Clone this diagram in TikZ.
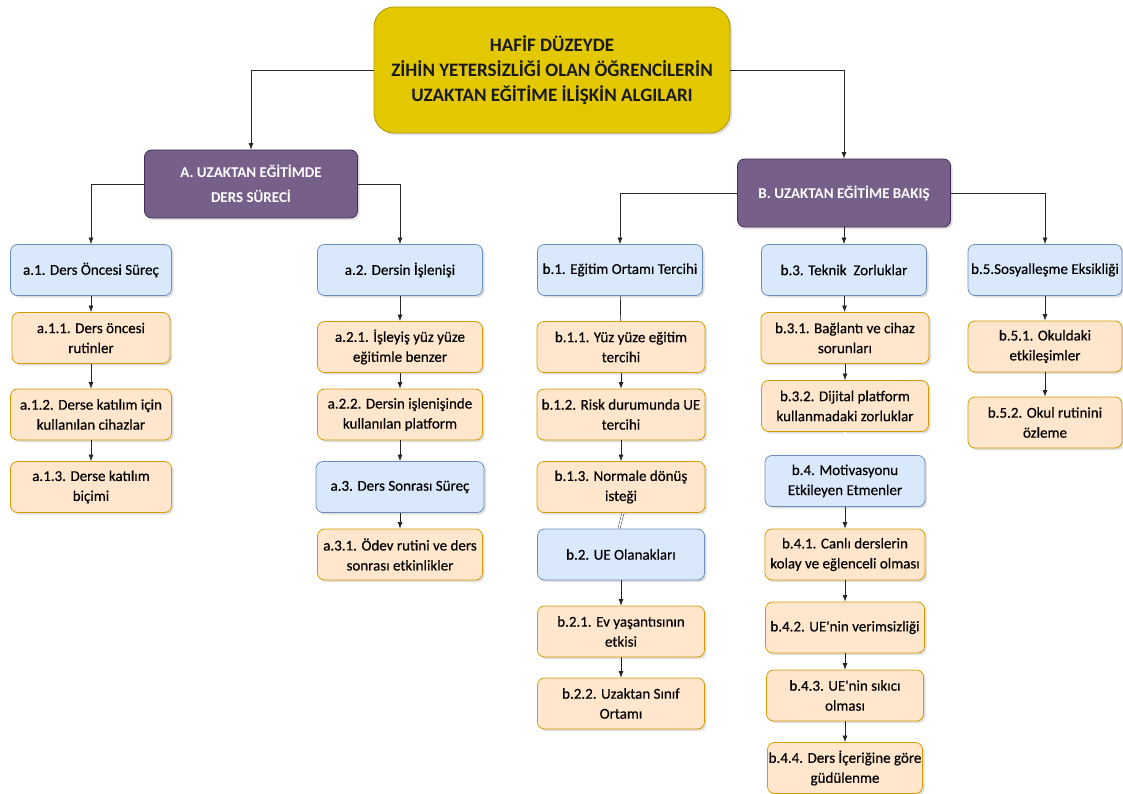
\documentclass[tikz,border=0pt]{standalone}
\usepackage{fontspec}
\setmainfont{Carlito}
\newfontfamily\boxfont{Carlito}[FakeBold=0.4]
\usetikzlibrary{arrows.meta, shadows}

\definecolor{rootfill}{HTML}{E3C800}
\definecolor{rootline}{HTML}{B09500}
\definecolor{headfill}{HTML}{76608A}
\definecolor{headline}{HTML}{432D57}
\definecolor{groupfill}{HTML}{DAE8FC}
\definecolor{groupline}{HTML}{6C8EBF}
\definecolor{itemfill}{HTML}{FFE6CC}
\definecolor{itemline}{HTML}{D79B00}

\begin{document}
\begin{tikzpicture}[x=1pt, y=-1pt,
    every node/.style={font=\boxfont\fontsize{15}{20}\selectfont, align=center},
    box/.style={draw, rounded corners=7pt, line width=0.8pt, minimum width=165pt, minimum height=51pt, inner sep=1pt,
        drop shadow={opacity=0.25, shadow xshift=2pt, shadow yshift=-2pt}},
    group/.style={box, fill=groupfill, draw=groupline},
    item/.style={box, fill=itemfill, draw=itemline},
    head/.style={box, fill=headfill, draw=headline, text=white, minimum width=213pt, minimum height=68pt,
        font=\fontsize{15}{25}\selectfont\bfseries},
    link/.style={-{Latex[length=6.5pt,width=5pt]}, line width=0.7pt, black!85},
    plain link/.style={line width=0.7pt, black!85},
    twin link/.style={line width=0.5pt, draw=black!75, double=white, double distance=1.6pt}]
    \useasboundingbox (0,0) rectangle (1123,794);

    % Title box
    \node[box, fill=rootfill, draw=rootline, rounded corners=20pt, minimum width=356pt, minimum height=126pt,
        text=black!90, font=\fontsize{19}{25}\selectfont\bfseries] (root) at (552,70)
        {HAFİF DÜZEYDE\\ZİHİN YETERSİZLİĞİ OLAN ÖĞRENCİLERİN\\UZAKTAN EĞİTİME İLİŞKİN ALGILARI};

    % Main themes
    \node[head] (themeA) at (251,184) {A. UZAKTAN EĞİTİMDE\\DERS SÜRECİ};
    \node[head] (themeB) at (844,193) {B. UZAKTAN EĞİTİME BAKIŞ};

    % Theme A
    \node[group, minimum width=161pt] (a1) at (91,270) {a.1. Ders Öncesi Süreç};
    \node[item, minimum width=158pt] (a11) at (91,338) {a.1.1. Ders öncesi\\rutinler};
    \node[item, minimum width=161pt] (a12) at (91,414.5) {a.1.2. Derse katılım için\\kullanılan cihazlar};
    \node[item, minimum width=161pt] (a13) at (91,487) {a.1.3. Derse katılım\\biçimi};

    \node[group] (a2) at (400,270) {a.2. Dersin İşlenişi};
    \node[item] (a21) at (400,347) {a.2.1. İşleyiş yüz yüze\\eğitimle benzer};
    \node[item] (a22) at (400,414.5) {a.2.2. Dersin işlenişinde\\kullanılan platform};
    \node[group, minimum width=168pt] (a3) at (400,487) {a.3. Ders Sonrası Süreç};
    \node[item] (a31) at (400,554.5) {a.3.1. Ödev rutini ve ders\\sonrası etkinlikler};

    % Theme B
    \node[group] (b1) at (620,270) {b.1. Eğitim Ortamı Tercihi};
    \node[item, minimum width=168pt] (b11) at (621,347) {b.1.1. Yüz yüze eğitim\\tercihi};
    \node[item, minimum width=168pt] (b12) at (621,414.5) {b.1.2. Risk durumunda UE\\tercihi};
    \node[item, minimum width=168pt] (b13) at (621,487) {b.1.3. Normale dönüş\\isteği};
    \node[group, minimum width=167pt] (b2) at (621,554.5) {b.2. UE Olanakları};
    \node[item, minimum width=167pt] (b21) at (621,631.5) {b.2.1. Ev yaşantısının\\etkisi};
    \node[item, minimum width=167pt] (b22) at (621,703.5) {b.2.2. Uzaktan Sınıf\\Ortamı};

    \node[group] (b3) at (844,270) {b.3. Teknik\ \ Zorluklar};
    \node[item, minimum width=168pt] (b31) at (845,338) {b.3.1. Bağlantı ve cihaz\\sorunları};
    \node[item, minimum width=167pt] (b32) at (845,406) {b.3.2. Dijital platform\\kullanmadaki zorluklar};
    \node[group, minimum width=160pt] (b4) at (845,481) {b.4. Motivasyonu\\Etkileyen Etmenler};
    \node[item, minimum width=160pt] (b41) at (845,554.5) {b.4.1. Canlı derslerin\\kolay ve eğlenceli olması};
    \node[item, minimum width=159pt] (b42) at (845,627.5) {b.4.2. UE'nin verimsizliği};
    \node[item, minimum width=157pt] (b43) at (845,695.5) {b.4.3. UE'nin sıkıcı\\olması};
    \node[item, minimum width=155pt] (b44) at (845,768) {b.4.4. Ders İçeriğine göre\\güdülenme};

    \node[group, minimum width=154pt, inner sep=0pt] (b5) at (1045,270) {b.5.Sosyalleşme Eksikliği};
    \node[item, minimum width=154pt] (b51) at (1045,346.5) {b.5.1. Okuldaki\\etkileşimler};
    \node[item, minimum width=154pt] (b52) at (1045,422.5) {b.5.2. Okul rutinini\\özleme};

    % Arrows from the title and the themes
    \draw[link] (root.west) -| (themeA.north);
    \draw[link] (root.east) -| (themeB.north);
    \draw[link] (themeA.west) -| (a1.north);
    \draw[link] (themeA.east) -| (a2.north);
    \draw[link] (themeB.west) -| (b1.north);
    \draw[link] (themeB.south) -- (b3.north);
    \draw[link] (themeB.east) -| (b5.north);

    % Arrows inside the columns
    \draw[link] (a1) -- (a11);
    \draw[link] (a11) -- (a12);
    \draw[link] (a12) -- (a13);
    \draw[link] (a2) -- (a21);
    \draw[link] (a21) -- (a22);
    \draw[link] (a22) -- (a3);
    \draw[link] (a3) -- (a31);
    \draw[plain link] (b1) -- (b11);
    \draw[link] (b11) -- (b12);
    \draw[link] (b12) -- (b13);
    \draw[twin link] ([xshift=2pt]b13.south) -- ([xshift=-2pt]b2.north);
    \draw[link] (b2) -- (b21);
    \draw[link] (b21) -- (b22);
    \draw[link] (b3) -- (b31);
    \draw[link] (b31) -- (b32);
    \draw[twin link] (b32) -- (b4);
    \draw[link] (b4) -- (b41);
    \draw[link] (b41) -- (b42);
    \draw[link] (b42) -- (b43);
    \draw[link] (b43) -- (b44);
    \draw[link] (b5) -- (b51);
    \draw[link] (b51) -- (b52);
\end{tikzpicture}
\end{document}
